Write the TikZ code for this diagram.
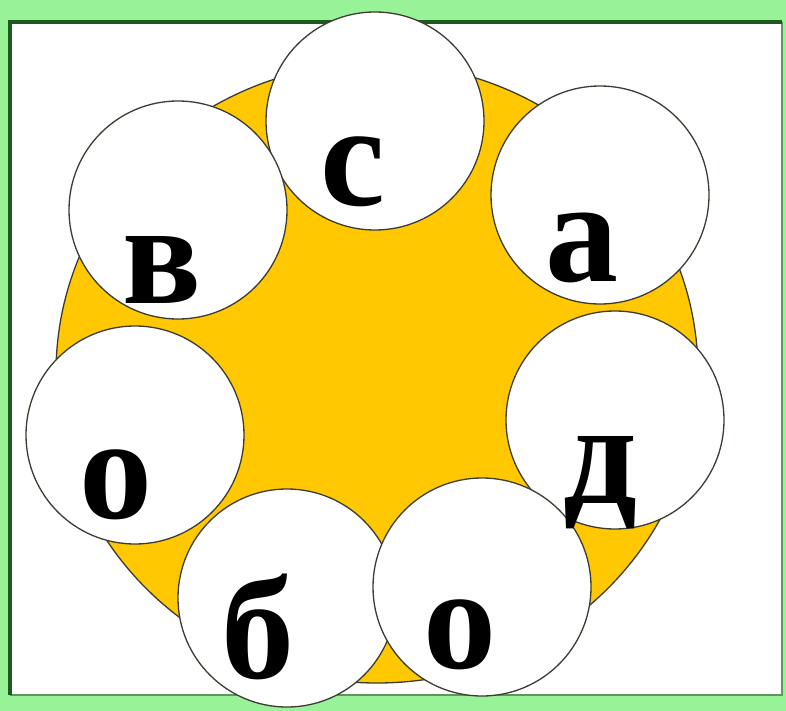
\documentclass[tikz,border=0pt]{standalone}
\usepackage{fontspec}
\setmainfont{Liberation Serif}
\definecolor{bggreen}{RGB}{152,242,152}
\definecolor{dkgreen}{RGB}{30,90,30}
\definecolor{mdgreen}{RGB}{95,150,95}
\definecolor{sun}{RGB}{255,200,0}
\definecolor{edgec}{RGB}{60,60,50}
\begin{document}
\begin{tikzpicture}[x=1pt,y=-1pt,
  ball/.style={circle,draw=edgec,line width=1.3pt,fill=white,minimum size=218pt,inner sep=0pt},
  letter/.style={inner sep=0pt,font=\fontsize{146}{146}\selectfont\bfseries}]
\fill[bggreen] (0,0) rectangle (786,711);
\useasboundingbox (0,0) rectangle (786,711);
\fill[white] (10,22) rectangle (782,695);
\draw[mdgreen,line width=2.5pt] (10,695) -- (782,695) -- (782,22);
\draw[dkgreen,line width=4pt] (10,695) -- (10,22) -- (782,22);
\draw[fill=sun,draw=edgec,line width=1.3pt] (377,373) ellipse [x radius=321pt, y radius=310pt];
\node[ball] (bc) at (375,121) {};
\node[ball] (bv) at (178,210) {};
\node[ball] (ba) at (600,195) {};
\node[ball] (bo1) at (135,435) {};
\node[ball] (bd) at (615,420) {};
\node[ball] (bb) at (287,598) {};
\node[ball] (bo2) at (482,587) {};
\node[letter] (lc) at (353,172) {с};
\node[letter] (lv) at (162,270) {в};
\node[letter] (la) at (582,248) {а};
\node[letter] (lo1) at (116,485) {о};
\node[letter] (ld) at (600,483) {д};
\node[letter] (lb) at (258,627) {б};
\node[letter] (lo2) at (460,635) {о};
\end{tikzpicture}
\end{document}
